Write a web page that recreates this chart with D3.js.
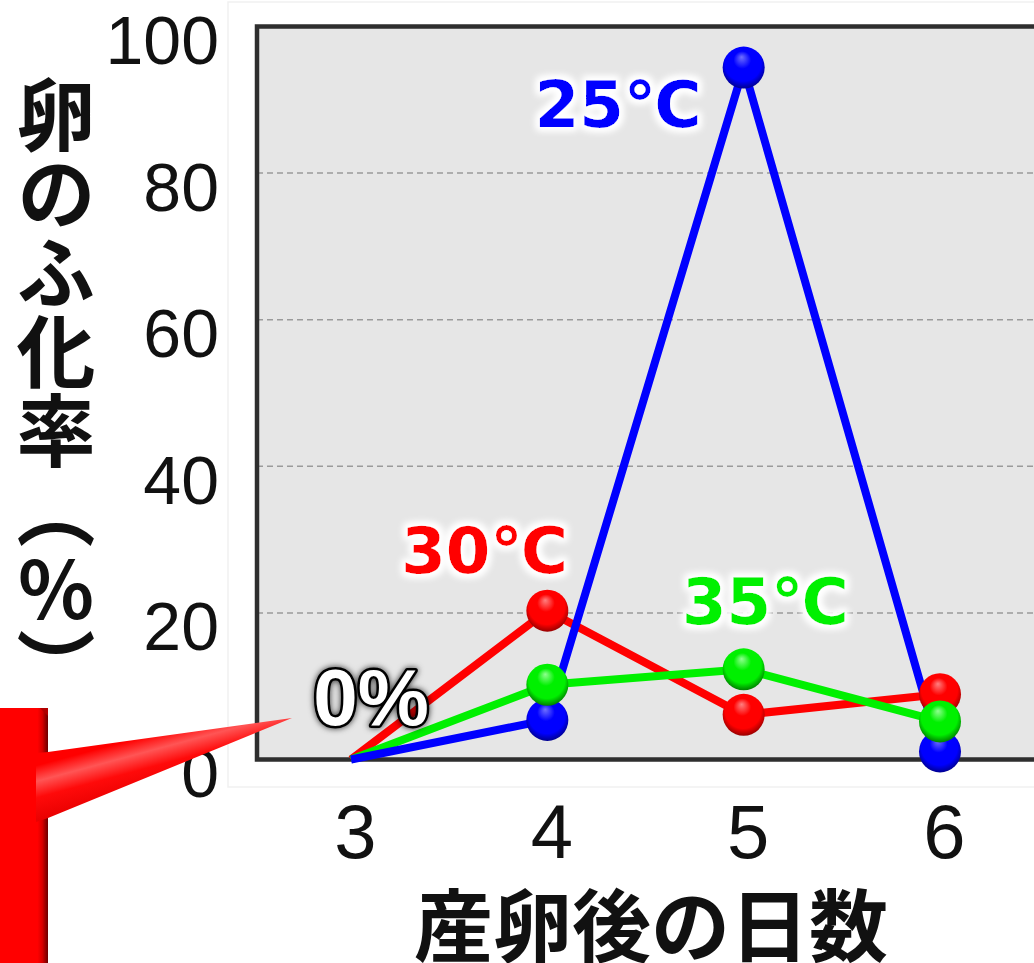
<!DOCTYPE html>
<html>
<head>
<meta charset="utf-8">
<script src="https://cdn.jsdelivr.net/npm/d3@7"></script>
<style>
  html, body { margin: 0; padding: 0; background: #ffffff; overflow: hidden; }
  svg { display: block; }
</style>
</head>
<body>
<svg id="chart" width="1034" height="963"></svg>
<script>
// Days after laying, and hatch rate (%) at each incubation temperature
const days = [3, 4, 5, 6];
const hatch25 = [0, 5.4, 94.4, 1.1];
const hatch30 = [0, 20.3, 6.1, 8.9];
const hatch35 = [0, 10.2, 12.3, 5.2];
const markerDays = [4, 5, 6];
const yTicks = [0, 20, 40, 60, 80, 100];
const gridTicks = [20, 40, 60, 80];

const series = [
  { key: "t30", name: "30℃", values: hatch30, color: "#ff0000", light: "#ff8080", dark: "#7a0000", label: { day: 3.68, value: 25.5 } },
  { key: "t35", name: "35℃", values: hatch35, color: "#00f000", light: "#90ff90", dark: "#006000", label: { day: 5.11, value: 18.5 } },
  { key: "t25", name: "25℃", values: hatch25, color: "#0000ff", light: "#7070ff", dark: "#000070", label: { day: 4.36, value: 86.3 } }
];
const markerOrder = ["t25", "t30", "t35"];

const svg = d3.select("#chart");
const plot = { left: 257, top: 26.5, right: 1042, bottom: 759.5 };

const x = d3.scaleLinear().domain([3, 6]).range([351, 940]);
const y = d3.scaleLinear().domain([0, 100]).range([plot.bottom, plot.top]);

const defs = svg.append("defs");

// soft white halo behind the temperature labels
const glow = defs.append("filter").attr("id", "halo")
  .attr("x", "-30%").attr("y", "-40%").attr("width", "160%").attr("height", "180%");
glow.append("feMorphology").attr("in", "SourceAlpha").attr("operator", "dilate").attr("radius", 3).attr("result", "d");
glow.append("feGaussianBlur").attr("in", "d").attr("stdDeviation", 3.5).attr("result", "b");
glow.append("feFlood").attr("flood-color", "#ffffff");
glow.append("feComposite").attr("in2", "b").attr("operator", "in").attr("result", "g");
const gm = glow.append("feMerge");
gm.append("feMergeNode").attr("in", "g");
gm.append("feMergeNode").attr("in", "g");
gm.append("feMergeNode").attr("in", "SourceGraphic");

// dark halo for the white "0%" note
const dglow = defs.append("filter").attr("id", "darkHalo")
  .attr("x", "-30%").attr("y", "-40%").attr("width", "160%").attr("height", "180%");
dglow.append("feGaussianBlur").attr("in", "SourceAlpha").attr("stdDeviation", 3).attr("result", "b");
dglow.append("feFlood").attr("flood-color", "#000000").attr("flood-opacity", 0.8);
dglow.append("feComposite").attr("in2", "b").attr("operator", "in").attr("result", "g");
const dm = dglow.append("feMerge");
dm.append("feMergeNode").attr("in", "g");
dm.append("feMergeNode").attr("in", "SourceGraphic");

// glossy sphere gradients
series.forEach(s => {
  const g = defs.append("radialGradient").attr("id", "ball-" + s.key)
    .attr("cx", "0.5").attr("cy", "0.45").attr("r", "0.6")
    .attr("fx", "0.45").attr("fy", "0.25");
  g.append("stop").attr("offset", "0").attr("stop-color", s.light);
  g.append("stop").attr("offset", "0.35").attr("stop-color", s.color);
  g.append("stop").attr("offset", "0.72").attr("stop-color", s.color);
  g.append("stop").attr("offset", "1").attr("stop-color", s.dark);
});

// gradients for the red callout
const blockGrad = defs.append("linearGradient").attr("id", "blockGrad")
  .attr("gradientUnits", "userSpaceOnUse").attr("x1", 0).attr("y1", 0).attr("x2", 48).attr("y2", 0);
blockGrad.append("stop").attr("offset", "0").attr("stop-color", "#ff0000");
blockGrad.append("stop").attr("offset", "0.78").attr("stop-color", "#ff0000");
blockGrad.append("stop").attr("offset", "0.88").attr("stop-color", "#d80000");
blockGrad.append("stop").attr("offset", "1").attr("stop-color", "#6a0000");

const wedgeGrad = defs.append("linearGradient").attr("id", "wedgeGrad")
  .attr("gradientUnits", "userSpaceOnUse").attr("x1", 150).attr("y1", 735).attr("x2", 168).attr("y2", 802);
wedgeGrad.append("stop").attr("offset", "0").attr("stop-color", "#ff0000");
wedgeGrad.append("stop").attr("offset", "0.22").attr("stop-color", "#ff5555");
wedgeGrad.append("stop").attr("offset", "0.45").attr("stop-color", "#ff0a0a");
wedgeGrad.append("stop").attr("offset", "0.8").attr("stop-color", "#e80000");
wedgeGrad.append("stop").attr("offset", "1").attr("stop-color", "#8a0000");

// faint outer chart frame
svg.append("rect")
  .attr("x", 228).attr("y", 2).attr("width", 830).attr("height", 785)
  .attr("fill", "none").attr("stroke", "#f1f1f1").attr("stroke-width", 1.5);

// plot background
svg.append("rect")
  .attr("x", plot.left).attr("y", plot.top)
  .attr("width", plot.right - plot.left).attr("height", plot.bottom - plot.top)
  .attr("fill", "#e6e6e6");

// dashed grid
svg.append("g").selectAll("line").data(gridTicks).join("line")
  .attr("x1", plot.left).attr("x2", plot.right)
  .attr("y1", d => y(d)).attr("y2", d => y(d))
  .attr("stroke", "#9a9a9a").attr("stroke-width", 1.5)
  .attr("stroke-dasharray", "6,4");

// plot frame
svg.append("path")
  .attr("d", `M${plot.right + 10},${plot.top}H${plot.left}V${plot.bottom}H${plot.right + 10}`)
  .attr("fill", "none").attr("stroke", "#2e2e2e").attr("stroke-width", 4.5);

// y axis labels
const yAxis = d3.axisLeft(y).tickValues(yTicks).tickSize(0).tickPadding(38).tickFormat(d3.format("d"));
const yg = svg.append("g").attr("transform", `translate(${plot.left},0)`).call(yAxis);
yg.select(".domain").remove();
yg.selectAll("text")
  .attr("font-family", "'Liberation Sans', Arial, sans-serif")
  .attr("font-size", 68).attr("fill", "#111111").attr("dy", "0.72em")
  .attr("transform", "translate(0,-12)");

// x axis labels
const xAxis = d3.axisBottom(x).tickValues(days).tickSize(0).tickPadding(0).tickFormat(d3.format("d"));
const xg = svg.append("g").attr("transform", `translate(0,${plot.bottom})`).call(xAxis);
xg.select(".domain").remove();
xg.selectAll("text")
  .attr("font-family", "'Liberation Sans', Arial, sans-serif")
  .attr("font-size", 76).attr("fill", "#111111")
  .attr("dy", null).attr("y", 98).attr("dx", 4);

// axis titles
svg.append("text")
  .attr("x", 651).attr("y", 921)
  .attr("text-anchor", "middle").attr("dominant-baseline", "central")
  .attr("font-family", "'Noto Sans CJK JP', sans-serif").attr("font-weight", 700)
  .attr("font-size", 79).attr("fill", "#111111")
  .text("産卵後の日数");

svg.append("text")
  .attr("x", 56).attr("y", 75)
  .attr("writing-mode", "vertical-rl")
  .style("text-orientation", "upright")
  .attr("font-family", "'Noto Sans CJK JP', sans-serif").attr("font-weight", 700)
  .attr("font-size", 79).attr("fill", "#111111")
  .text("卵のふ化率（%）");

// lines
const line = d3.line().x((d, i) => x(days[i])).y(d => y(d));
svg.append("g").selectAll("path").data(series).join("path")
  .attr("d", s => line(s.values))
  .attr("fill", "none").attr("stroke", s => s.color)
  .attr("stroke-width", 8).attr("stroke-linejoin", "miter");

// markers
const byKey = Object.fromEntries(series.map(s => [s.key, s]));
const mg = svg.append("g");
markerOrder.forEach(k => {
  const s = byKey[k];
  mg.selectAll(null).data(markerDays).join("circle")
    .attr("cx", d => x(d))
    .attr("cy", d => y(s.values[days.indexOf(d)]))
    .attr("r", 21)
    .attr("fill", `url(#ball-${s.key})`);
});

// temperature labels
svg.append("g").selectAll("text").data(series).join("text")
  .attr("x", s => x(s.label.day)).attr("y", s => y(s.label.value))
  .attr("text-anchor", "middle")
  .attr("font-family", "'DejaVu Sans', sans-serif").attr("font-weight", 700)
  .attr("font-size", 64).attr("fill", s => s.color)
  .attr("filter", "url(#halo)")
  .text(s => s.name);

// red callout pointing at the zero value
svg.append("rect")
  .attr("x", -5).attr("y", 708).attr("width", 53).attr("height", 270)
  .attr("fill", "url(#blockGrad)");
svg.append("path")
  .attr("d", "M40,708 L48,716 L48,708 Z")
  .attr("fill", "#b00000");
svg.append("path")
  .attr("d", "M36,753 L48,752 L292,718 L48,818 L36,822 Z")
  .attr("fill", "url(#wedgeGrad)");

svg.append("text")
  .attr("x", 371).attr("y", 725)
  .attr("text-anchor", "middle")
  .attr("font-family", "'Liberation Sans', Arial, sans-serif").attr("font-weight", 700)
  .attr("font-size", 80).attr("fill", "#ffffff")
  .attr("stroke", "#000000").attr("stroke-width", 5).attr("paint-order", "stroke")
  .attr("stroke-linejoin", "round")
  .attr("filter", "url(#darkHalo)")
  .text("0%");
</script>
</body>
</html>
